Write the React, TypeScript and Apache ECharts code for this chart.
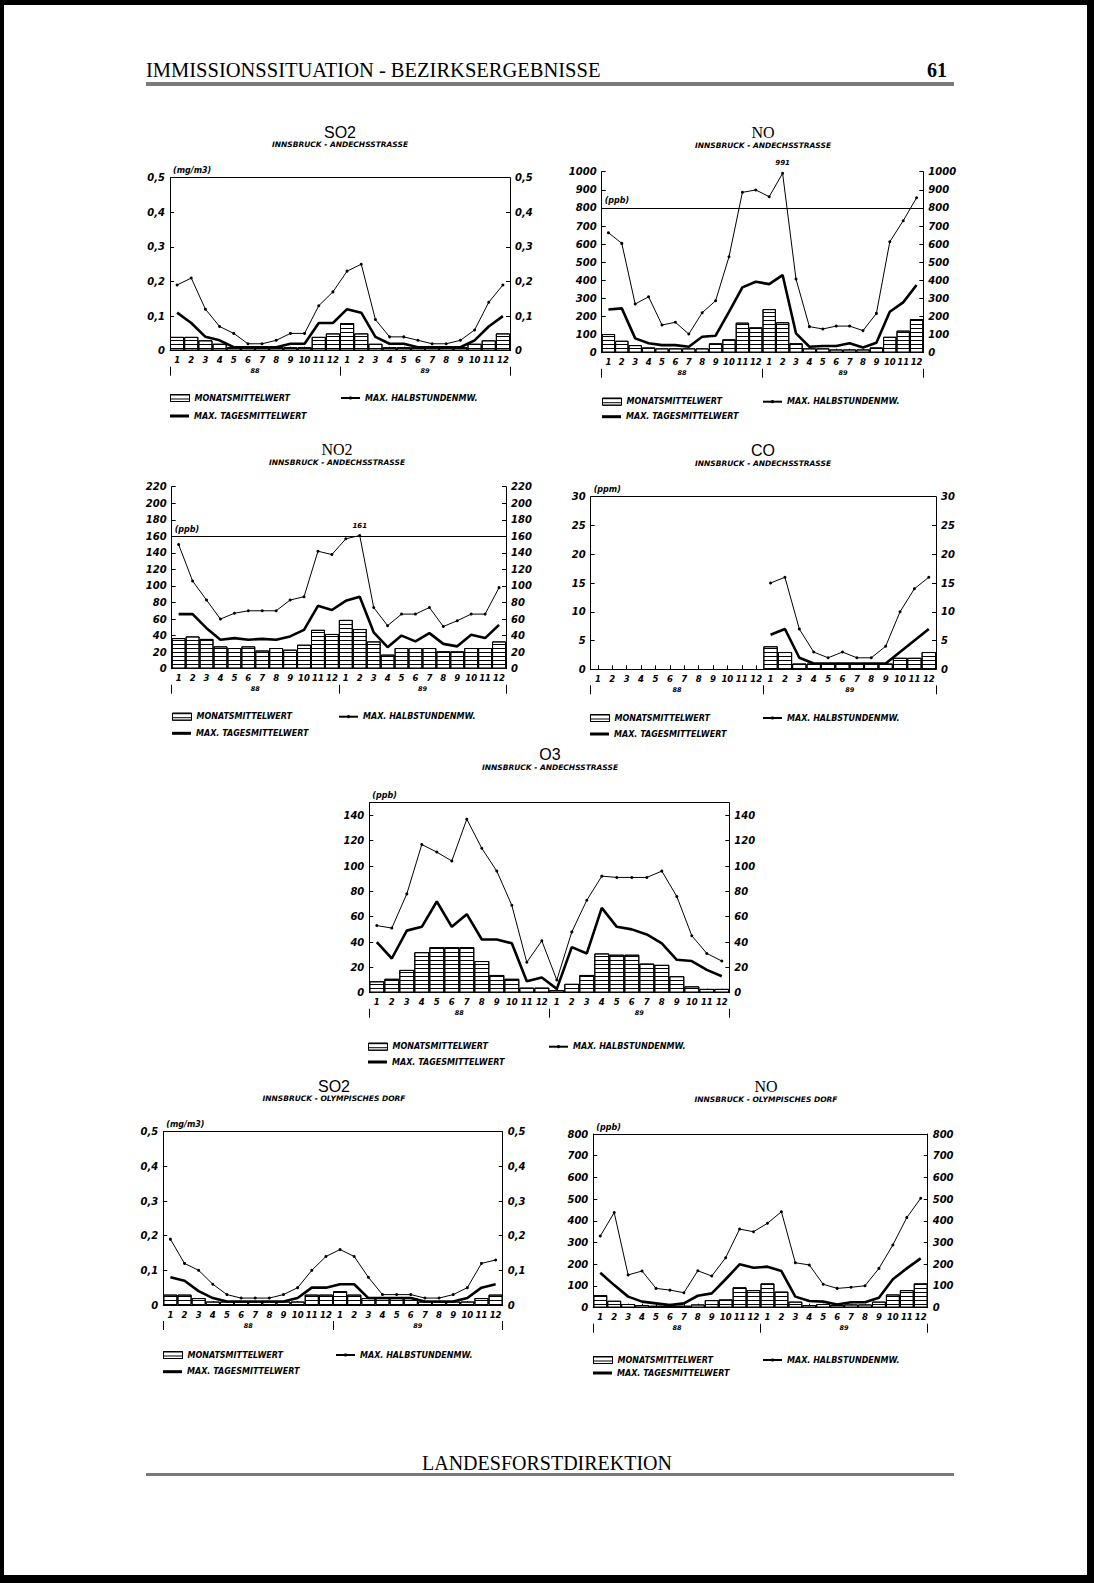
import { useEffect, useRef } from 'react';
import * as echarts from 'echarts';

// ---------- categories ----------
const MONTHS = ['1', '2', '3', '4', '5', '6', '7', '8', '9', '10', '11', '12', '1', '2', '3', '4', '5', '6', '7', '8', '9', '10', '11', '12'];
const YEARS = ['88', '89'];
const NAME_MONTHLY = 'MONATSMITTELWERT';
const NAME_HALFHOUR = 'MAX. HALBSTUNDENMW.';
const NAME_DAILY = 'MAX. TAGESMITTELWERT';

// ---------- SO2 Innsbruck - Andechsstrasse (mg/m3) ----------
const so2AndMonthly = [0.04, 0.04, 0.03, 0.02, 0.01, 0.01, 0.01, 0.01, 0.01, 0.01, 0.04, 0.05, 0.08, 0.05, 0.02, 0.01, 0.01, 0.01, 0.01, 0.01, 0.01, 0.02, 0.03, 0.05];
const so2AndHalfHour = [0.19, 0.21, 0.12, 0.07, 0.05, 0.02, 0.02, 0.03, 0.05, 0.05, 0.13, 0.17, 0.23, 0.25, 0.09, 0.04, 0.04, 0.03, 0.02, 0.02, 0.03, 0.06, 0.14, 0.19];
const so2AndDaily = [0.11, 0.08, 0.04, 0.03, 0.01, 0.01, 0.01, 0.01, 0.02, 0.02, 0.08, 0.08, 0.12, 0.11, 0.04, 0.02, 0.02, 0.01, 0.01, 0.01, 0.01, 0.03, 0.07, 0.10];

// ---------- NO Innsbruck - Andechsstrasse (ppb) ----------
const noAndMonthly = [103, 66, 42, 29, 24, 24, 24, 24, 52, 74, 166, 140, 241, 168, 52, 24, 24, 18, 18, 18, 29, 88, 122, 186];
const noAndHalfHour = [663, 604, 269, 309, 153, 168, 103, 221, 287, 530, 886, 899, 862, 991, 407, 144, 131, 147, 147, 122, 217, 613, 729, 856];
const noAndDaily = [239, 245, 79, 52, 42, 42, 33, 88, 94, 226, 361, 392, 379, 429, 107, 33, 37, 37, 52, 29, 55, 226, 278, 374];

// ---------- NO2 Innsbruck - Andechsstrasse (ppb) ----------
const no2AndMonthly = [37, 39, 36, 27, 25, 27, 22, 25, 23, 29, 47, 42, 59, 48, 33, 17, 25, 25, 25, 21, 21, 25, 25, 33];
const no2AndHalfHour = [150, 106, 83, 60, 67, 70, 70, 70, 83, 87, 142, 138, 157, 161, 74, 52, 66, 66, 74, 51, 58, 66, 66, 98];
const no2AndDaily = [66, 66, 49, 35, 37, 35, 36, 35, 39, 47, 76, 71, 82, 87, 44, 26, 40, 33, 43, 30, 27, 41, 37, 53];

// ---------- CO Innsbruck - Andechsstrasse (ppm) ----------
const coAndMonthly = [null, null, null, null, null, null, null, null, null, null, null, null, 4, 3, 1, 1, 1, 1, 1, 1, 1, 2, 2, 3];
const coAndHalfHour = [null, null, null, null, null, null, null, null, null, null, null, null, 15, 16, 7, 3, 2, 3, 2, 2, 4, 10, 14, 16];
const coAndDaily = [null, null, null, null, null, null, null, null, null, null, null, null, 6, 7, 2, 1, 1, 1, 1, 1, 1, 3, 5, 7];

// ---------- O3 Innsbruck - Andechsstrasse (ppb) ----------
const o3AndMonthly = [9, 11, 18, 32, 36, 36, 36, 25, 14, 11, 4, 4, 2, 7, 14, 31, 30, 30, 23, 22, 13, 5, 3, 3];
const o3AndHalfHour = [53, 51, 78, 117, 111, 104, 137, 114, 96, 69, 24, 41, 10, 48, 73, 92, 91, 91, 91, 96, 76, 45, 31, 25];
const o3AndDaily = [40, 27, 49, 52, 72, 52, 62, 42, 42, 39, 9, 12, 3, 36, 31, 67, 52, 50, 46, 39, 26, 25, 18, 13];

// ---------- SO2 Innsbruck - Olympisches Dorf (mg/m3) ----------
const so2OlyMonthly = [0.03, 0.03, 0.02, 0.01, 0.01, 0.01, 0.01, 0.01, 0.01, 0.01, 0.03, 0.03, 0.04, 0.03, 0.02, 0.02, 0.02, 0.02, 0.01, 0.01, 0.01, 0.01, 0.02, 0.03];
const so2OlyHalfHour = [0.19, 0.12, 0.10, 0.06, 0.03, 0.02, 0.02, 0.02, 0.03, 0.05, 0.10, 0.14, 0.16, 0.14, 0.08, 0.03, 0.03, 0.03, 0.02, 0.02, 0.03, 0.05, 0.12, 0.13];
const so2OlyDaily = [0.08, 0.07, 0.04, 0.02, 0.01, 0.01, 0.01, 0.01, 0.01, 0.02, 0.05, 0.05, 0.06, 0.06, 0.02, 0.02, 0.02, 0.02, 0.01, 0.01, 0.01, 0.02, 0.05, 0.06];

// ---------- NO Innsbruck - Olympisches Dorf (ppb) ----------
const noOlyMonthly = [58, 32, 17, 12, 9, 9, 9, 15, 35, 38, 94, 81, 112, 74, 28, 12, 17, 12, 15, 15, 28, 61, 81, 112];
const noOlyHalfHour = [330, 438, 151, 169, 89, 81, 69, 170, 146, 230, 362, 350, 389, 442, 207, 197, 108, 89, 94, 101, 181, 289, 415, 504];
const noOlyDaily = [161, 104, 51, 28, 20, 12, 20, 55, 66, 131, 200, 184, 189, 169, 51, 31, 28, 15, 25, 25, 46, 131, 181, 227];

// ---------- page texts ----------
const HEADER_TEXT = 'IMMISSIONSSITUATION - BEZIRKSERGEBNISSE';
const PAGE_NUMBER = '61';
const FOOTER_TEXT = 'LANDESFORSTDIREKTION';

const AXIS_FONT = "'DejaVu Sans', sans-serif";
const SANS = "'Liberation Sans', Arial, sans-serif";
const SERIF = "'Liberation Serif', 'Times New Roman', serif";

const PANELS = [
  {
    title: 'SO2', titleFamily: SANS, station: 'INNSBRUCK - ANDECHSSTRASSE', unit: '(mg/m3)',
    max: 0.5, interval: 0.1, limit: 0.5, decimal: true, labelPeak: false,
    monthly: so2AndMonthly, halfHour: so2AndHalfHour, daily: so2AndDaily,
    box: { left: 170, right: 510, top: 177.7, bottom: 350.7 },
    titleX: 340, titleY: 132, subY: 144.5,
    leg: { x1: 170, x2: 340, y1: 398, y2: 416 },
  },
  {
    title: 'NO', titleFamily: SERIF, station: 'INNSBRUCK - ANDECHSSTRASSE', unit: '(ppb)',
    max: 1000, interval: 100, limit: 800, decimal: false, labelPeak: true,
    monthly: noAndMonthly, halfHour: noAndHalfHour, daily: noAndDaily,
    box: { left: 601.7, right: 923.3, top: 171.7, bottom: 352.7 },
    titleX: 763, titleY: 132.5, subY: 145,
    leg: { x1: 602, x2: 762, y1: 401.7, y2: 416.7 },
  },
  {
    title: 'NO2', titleFamily: SERIF, station: 'INNSBRUCK - ANDECHSSTRASSE', unit: '(ppb)',
    max: 220, interval: 20, limit: 160, decimal: false, labelPeak: true,
    monthly: no2AndMonthly, halfHour: no2AndHalfHour, daily: no2AndDaily,
    box: { left: 171.7, right: 506, top: 486.7, bottom: 668.7 },
    titleX: 337, titleY: 449, subY: 462,
    leg: { x1: 172, x2: 338, y1: 716.7, y2: 733.3 },
  },
  {
    title: 'CO', titleFamily: SANS, station: 'INNSBRUCK - ANDECHSSTRASSE', unit: '(ppm)',
    max: 30, interval: 5, limit: 30, decimal: false, labelPeak: false,
    monthly: coAndMonthly, halfHour: coAndHalfHour, daily: coAndDaily,
    box: { left: 590.7, right: 936, top: 496.7, bottom: 669.3 },
    titleX: 763, titleY: 450, subY: 463,
    leg: { x1: 590, x2: 762, y1: 718, y2: 734 },
  },
  {
    title: 'O3', titleFamily: SANS, station: 'INNSBRUCK - ANDECHSSTRASSE', unit: '(ppb)',
    max: 150, interval: 20, limit: 150, decimal: false, labelPeak: false,
    monthly: o3AndMonthly, halfHour: o3AndHalfHour, daily: o3AndDaily,
    box: { left: 369.3, right: 729.3, top: 802.7, bottom: 992.7 },
    titleX: 550, titleY: 754.5, subY: 767,
    leg: { x1: 368, x2: 548, y1: 1046.7, y2: 1062 },
  },
  {
    title: 'SO2', titleFamily: SANS, station: 'INNSBRUCK - OLYMPISCHES DORF', unit: '(mg/m3)',
    max: 0.5, interval: 0.1, limit: 0.5, decimal: true, labelPeak: false,
    monthly: so2OlyMonthly, halfHour: so2OlyHalfHour, daily: so2OlyDaily,
    box: { left: 163.3, right: 502.7, top: 1131.7, bottom: 1305 },
    titleX: 334, titleY: 1086, subY: 1098.5,
    leg: { x1: 163, x2: 335, y1: 1355, y2: 1371.7 },
  },
  {
    title: 'NO', titleFamily: SERIF, station: 'INNSBRUCK - OLYMPISCHES DORF', unit: '(ppb)',
    max: 800, interval: 100, limit: 800, decimal: false, labelPeak: false,
    monthly: noOlyMonthly, halfHour: noOlyHalfHour, daily: noOlyDaily,
    box: { left: 593.3, right: 927.7, top: 1134, bottom: 1307.7 },
    titleX: 766, titleY: 1086, subY: 1099,
    leg: { x1: 593, x2: 762, y1: 1360, y2: 1373 },
  },
];

const boldItalic = (size: number) => ({
  fontFamily: AXIS_FONT,
  fontWeight: 'bold' as const,
  fontStyle: 'italic' as const,
  fontSize: size,
  color: '#000',
});

const HATCH = { symbol: 'rect', symbolSize: 1, color: '#000', dashArrayX: [1, 0], dashArrayY: [1, 2.3], rotation: 0 };

function buildOption() {
  const grid: any[] = [];
  const xAxis: any[] = [];
  const yAxis: any[] = [];
  const series: any[] = [];
  const legend: any[] = [];
  const title: any[] = [];

  PANELS.forEach((p, i) => {
    const b = p.box;
    grid.push({ left: b.left, top: b.top, width: b.right - b.left, height: b.bottom - b.top, containLabel: false });

    const fmt = (v: number) => {
      const r = v / p.interval;
      if (Math.abs(r - Math.round(r)) > 1e-6) return '';
      if (v === 0) return '0';
      return p.decimal ? v.toFixed(1).replace('.', ',') : String(v);
    };

    xAxis.push({
      type: 'category', gridIndex: i, data: MONTHS, boundaryGap: true, position: 'bottom',
      axisLine: { show: true, onZero: false, lineStyle: { color: '#000', width: 1 } },
      axisTick: { show: true, inside: true, alignWithLabel: true, length: 4, interval: 0, lineStyle: { color: '#000' } },
      axisLabel: { interval: 0, margin: 5, ...boldItalic(8.5) },
      splitLine: { show: false },
    });
    xAxis.push({
      type: 'category', gridIndex: i, data: YEARS, boundaryGap: true, position: 'bottom', offset: 16,
      axisLine: { show: false, onZero: false },
      axisTick: { show: true, inside: false, alignWithLabel: false, length: 9, interval: 0, lineStyle: { color: '#000', width: 1 } },
      axisLabel: { interval: 0, margin: 1, ...boldItalic(6.5) },
      splitLine: { show: false },
    });

    const yCommon = {
      type: 'value', gridIndex: i, min: 0, max: p.max, interval: p.interval,
      axisLine: { show: true, onZero: false, lineStyle: { color: '#000', width: 1 } },
      axisTick: { show: true, inside: true, length: 4, lineStyle: { color: '#000' } },
      splitLine: { show: false },
    };
    yAxis.push({ ...yCommon, position: 'left', axisLabel: { margin: 5, formatter: fmt, ...boldItalic(10) } });
    yAxis.push({ ...yCommon, position: 'right', axisLabel: { margin: 5, formatter: fmt, ...boldItalic(10) } });

    series.push({
      name: NAME_MONTHLY, type: 'bar', xAxisIndex: 2 * i, yAxisIndex: 2 * i,
      data: p.monthly, barCategoryGap: '0%', barGap: '0%',
      itemStyle: { color: '#fff', borderColor: '#000', borderWidth: 1, decal: HATCH },
      silent: true,
      markLine: {
        silent: true, symbol: ['none', 'none'],
        lineStyle: { color: '#000', width: 1, type: 'solid' },
        label: { show: true, position: 'insideStartTop', distance: 3, formatter: p.unit, ...boldItalic(8) },
        data: [{ yAxis: p.limit }],
      },
      z: 2,
    });
    series.push({
      name: NAME_DAILY, type: 'line', xAxisIndex: 2 * i, yAxisIndex: 2 * i,
      data: p.daily, symbol: 'none', connectNulls: false,
      lineStyle: { color: '#000', width: 2.6 }, itemStyle: { color: '#000' },
      silent: true, z: 3,
    });
    let peakIdx = -1;
    if (p.labelPeak) {
      let best = -Infinity;
      (p.halfHour as number[]).forEach((v, k) => { if (v != null && v > best) { best = v; peakIdx = k; } });
    }
    series.push({
      name: NAME_HALFHOUR, type: 'line', xAxisIndex: 2 * i, yAxisIndex: 2 * i,
      data: (p.halfHour as (number | null)[]).map((v, k) =>
        k === peakIdx
          ? { value: v, label: { show: true, position: 'top', distance: 5, formatter: '{c}', ...boldItalic(7) } }
          : v),
      symbol: 'circle', symbolSize: 3, showAllSymbol: true, connectNulls: false,
      lineStyle: { color: '#000', width: 1 }, itemStyle: { color: '#000' },
      silent: true, z: 4,
    });

    const legCommon = {
      orient: 'horizontal', padding: 0, itemWidth: 19, selectedMode: false,
      textStyle: { ...boldItalic(8), lineHeight: 10 },
    };
    legend.push({
      ...legCommon, itemHeight: 7, left: p.leg.x1, top: p.leg.y1 - 5,
      data: [{ name: NAME_MONTHLY, icon: 'rect' }],
      itemStyle: { color: '#fff', borderColor: '#000', borderWidth: 1, decal: HATCH },
    });
    legend.push({
      ...legCommon, itemHeight: 4, left: p.leg.x2, top: p.leg.y1 - 5,
      data: [{ name: NAME_HALFHOUR }],
    });
    legend.push({
      ...legCommon, itemHeight: 3, left: p.leg.x1, top: p.leg.y2 - 5,
      data: [{ name: NAME_DAILY, icon: 'rect' }],
      itemStyle: { color: '#000', borderWidth: 0 },
    });

    title.push({
      text: p.title, left: p.titleX, top: p.titleY, textAlign: 'center', textVerticalAlign: 'middle', padding: 0,
      textStyle: { fontFamily: p.titleFamily, fontSize: 16, lineHeight: 16, fontWeight: 'normal', color: '#000' },
    });
    title.push({
      text: p.station, left: p.titleX, top: p.subY, textAlign: 'center', textVerticalAlign: 'middle', padding: 0,
      textStyle: { ...boldItalic(7.5), lineHeight: 8 },
    });
  });

  const graphic: any[] = [
    { type: 'rect', shape: { x: 0, y: 0, width: 1094, height: 5 }, style: { fill: '#000' }, silent: true },
    { type: 'rect', shape: { x: 0, y: 0, width: 4, height: 1583 }, style: { fill: '#000' }, silent: true },
    { type: 'rect', shape: { x: 1087, y: 0, width: 7, height: 1583 }, style: { fill: '#000' }, silent: true },
    { type: 'rect', shape: { x: 0, y: 1575, width: 1094, height: 8 }, style: { fill: '#000' }, silent: true },
    {
      type: 'text', x: 146, y: 70, silent: true,
      style: { text: HEADER_TEXT, font: `20.5px ${SERIF}`, fill: '#000', textVerticalAlign: 'middle', textAlign: 'left' },
    },
    {
      type: 'text', x: 947, y: 70, silent: true,
      style: { text: PAGE_NUMBER, font: `bold 20px ${SERIF}`, fill: '#000', textVerticalAlign: 'middle', textAlign: 'right' },
    },
    { type: 'rect', shape: { x: 146, y: 82, width: 808, height: 4 }, style: { fill: '#7a7a7a' }, silent: true },
    {
      type: 'text', x: 547, y: 1463, silent: true,
      style: { text: FOOTER_TEXT, font: `20px ${SERIF}`, fill: '#000', textVerticalAlign: 'middle', textAlign: 'center' },
    },
    { type: 'rect', shape: { x: 146, y: 1473, width: 808, height: 3 }, style: { fill: '#7a7a7a' }, silent: true },
  ];

  return {
    animation: false,
    backgroundColor: '#fff',
    title, grid, xAxis, yAxis, series, legend, graphic,
  };
}

export default function App() {
  const ref = useRef<HTMLDivElement>(null);
  useEffect(() => {
    if (!ref.current) return;
    const chart = echarts.init(ref.current, undefined, { renderer: 'svg' });
    chart.setOption(buildOption() as any);
    return () => chart.dispose();
  }, []);
  return (
    <div
      ref={ref}
      style={{ position: 'absolute', left: 0, top: 0, width: 1094, height: 1583, background: '#fff' }}
    />
  );
}
